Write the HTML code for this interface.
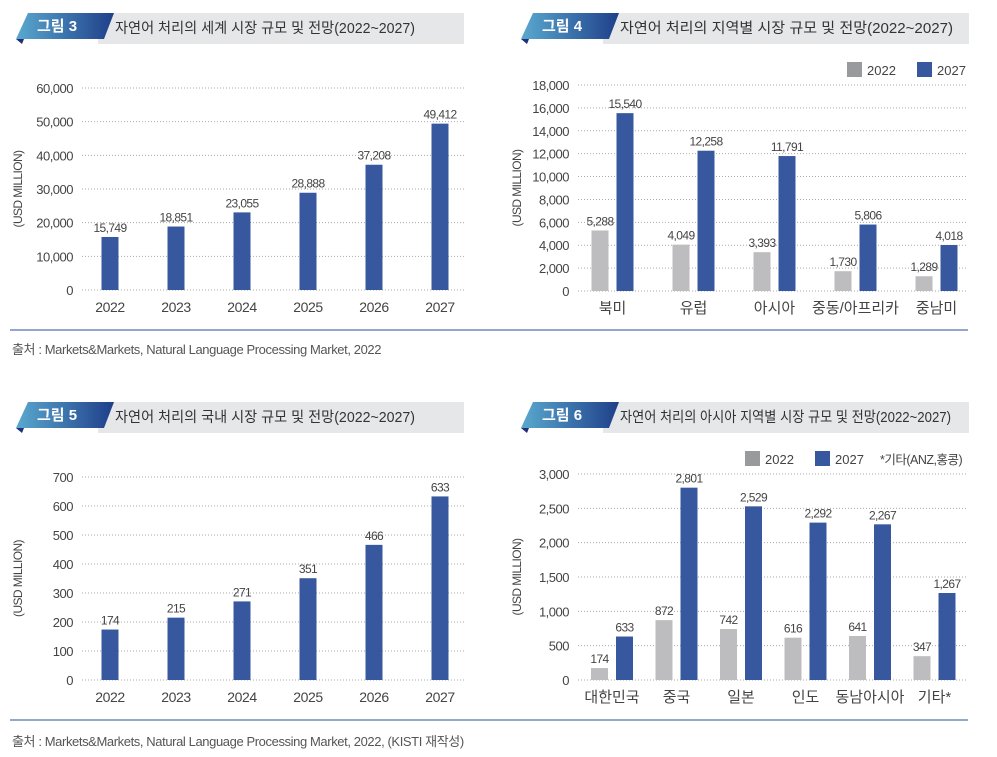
<!DOCTYPE html>
<html><head><meta charset="utf-8"><style>
body{margin:0;background:#fff;}
svg{display:block;font-family:"Liberation Sans","Noto Sans CJK KR",sans-serif;}
</style></head><body>
<svg id="s" width="997" height="757" viewBox="0 0 997 757"></svg>
<script>
// Chart 3 data
const c3Cats=["2022","2023","2024","2025","2026","2027"];
const c3Vals=[15749,18851,23055,28888,37208,49412];
const c3Ticks=[0,10000,20000,30000,40000,50000,60000];
// Chart 4 data
const c4Cats=["북미","유럽","아시아","중동/아프리카","중남미"];
const c4V2022=[5288,4049,3393,1730,1289];
const c4V2027=[15540,12258,11791,5806,4018];
const c4Ticks=[0,2000,4000,6000,8000,10000,12000,14000,16000,18000];
// Chart 5 data
const c5Cats=["2022","2023","2024","2025","2026","2027"];
const c5Vals=[174,215,271,351,466,633];
const c5Ticks=[0,100,200,300,400,500,600,700];
// Chart 6 data
const c6Cats=["대한민국","중국","일본","인도","동남아시아","기타*"];
const c6V2022=[174,872,742,616,641,347];
const c6V2027=[633,2801,2529,2292,2267,1267];
const c6Ticks=[0,500,1000,1500,2000,2500,3000];

const NS="http://www.w3.org/2000/svg";
const svg=document.getElementById("s");
const BLUE="#37589f",GRAY="#bdbdbf";
function el(tag,attrs,parent,text){const e=document.createElementNS(NS,tag);for(const k in attrs)e.setAttribute(k,attrs[k]);if(text!==undefined)e.textContent=text;(parent||svg).appendChild(e);return e;}
function fmt(v){return v.toLocaleString("en-US");}

function header(x,y,num,title,key,tl){
  const g=el("g",{});
  
  
  el("rect",{x:x+88,y:y+1,width:366,height:31,fill:"#e6e7e9"},g);
  el("polygon",{points:`${x+6},${y+27} ${x+12},${y+32} ${x+14},${y+27}`,fill:"#1f2f7a"},g);
  const grad=el("linearGradient",{id:"gr"+key,x1:"0",x2:"1",y1:"0",y2:"0"},g);
  el("stop",{offset:"0","stop-color":"#5aa9cf"},grad);
  el("stop",{offset:"1","stop-color":"#1f3f8a"},grad);
  el("polygon",{points:`${x+18},${y+1} ${x+104},${y+1} ${x+94},${y+27} ${x+6},${y+27}`,fill:`url(#gr${key})`},g);
  el("text",{x:x+27,y:y+19,"font-size":15,"font-weight":"bold",fill:"#fff"},g,"그림 "+num);
  const tt=el("text",{x:x+105,y:y+21,"font-size":14.5,fill:"#333",textLength:tl,lengthAdjust:"spacingAndGlyphs"},g,title);
  
  
}

function axis(o){
  const g=el("g",{});
  
  
  const max=o.ticks[o.ticks.length-1];
  o.ticks.forEach(t=>{
    const y=o.y0-(t/max)*(o.y0-o.yTop);
    el("line",{x1:o.gx0,x2:o.gx1,y1:y,y2:y,stroke:"#aaa","stroke-width":1,"stroke-dasharray":"1,2"},g);
    const lb=el("text",{x:o.lx,y:y+5,"font-size":13,fill:"#444","text-anchor":"end","letter-spacing":"-0.5"},g,fmt(t));
    
    
  });
  const yt=el("text",{x:0,y:0,"font-size":12,fill:"#444","text-anchor":"middle",transform:`translate(${o.tx},${(o.y0+o.yTop)/2}) rotate(-90)`,"letter-spacing":"-0.6"},g,"(USD MILLION)");
  
  
  return v=>o.y0-(v/max)*(o.y0-o.yTop);
}

function single(o){
  const ys=axis(o);
  o.cats.forEach((c,i)=>{
    const cx=o.x0+i*o.step;
    const y=ys(o.vals[i]);
    const b=el("rect",{x:cx-o.bw/2,y:y,width:o.bw,height:o.y0-y,fill:BLUE});
    
    
    const v=el("text",{x:cx,y:y-5,"font-size":12,fill:"#444","text-anchor":"middle","letter-spacing":"-0.6"},svg,fmt(o.vals[i]));
    
    
    const l=el("text",{x:cx,y:o.y0+22,"font-size":14,fill:"#444","text-anchor":"middle","letter-spacing":"-0.4"},svg,c);
    
    
  });
}

function grouped(o){
  const ys=axis(o);
  o.cats.forEach((c,i)=>{
    const cx=o.x0+i*o.step;
    [[o.a,GRAY,-1],[o.b,BLUE,1]].forEach(([arr,col,s])=>{
      const bx=s<0?cx-o.gap/2-o.bw:cx+o.gap/2;
      const y=ys(arr[i]);
      const b=el("rect",{x:bx,y:y,width:o.bw,height:o.y0-y,fill:col});
      
      
      const v=el("text",{x:bx+o.bw/2,y:y-5,"font-size":12,fill:"#444","text-anchor":"middle","letter-spacing":"-0.6"},svg,fmt(arr[i]));
      
      
    });
    const l=el("text",{x:cx,y:o.y0+22,"font-size":15,fill:"#444","text-anchor":"middle"},svg,c);
    
    
  });
  const lg=el("g",{});
  
  
  el("rect",{x:o.lgx,y:o.lgy-7,width:15,height:15,fill:"#999a9d"},lg);
  el("text",{x:o.lgx+20,y:o.lgy+6,"font-size":13,fill:"#444"},lg,"2022");
  el("rect",{x:o.lgx+70,y:o.lgy-7,width:15,height:15,fill:BLUE},lg);
  el("text",{x:o.lgx+90,y:o.lgy+6,"font-size":13,fill:"#444"},lg,"2027");
  if(o.note) el("text",{x:o.lgx+135,y:o.lgy+6,"font-size":12.5,fill:"#444","letter-spacing":"-0.5"},lg,o.note);
}

header(10,12,3,"자연어 처리의 세계 시장 규모 및 전망(2022~2027)","fig3",300);
header(515,12,4,"자연어 처리의 지역별 시장 규모 및 전망(2022~2027)","fig4",333);
header(10,401,5,"자연어 처리의 국내 시장 규모 및 전망(2022~2027)","fig5",300);
header(515,401,6,"자연어 처리의 아시아 지역별 시장 규모 및 전망(2022~2027)","fig6",331);

single({key:"fig3",cats:c3Cats,vals:c3Vals,ticks:c3Ticks,y0:290,yTop:88,gx0:82,gx1:464,lx:73,tx:22,x0:110,step:66,bw:17});
grouped({key:"fig4",cats:c4Cats,a:c4V2022,b:c4V2027,ticks:c4Ticks,y0:291,yTop:85,gx0:578,gx1:968,lx:569,tx:521,x0:612.5,step:81,bw:17,gap:8,lgx:847,lgy:69});
single({key:"fig5",cats:c5Cats,vals:c5Vals,ticks:c5Ticks,y0:680,yTop:477,gx0:82,gx1:464,lx:73,tx:22,x0:110,step:66,bw:17});
grouped({key:"fig6",cats:c6Cats,a:c6V2022,b:c6V2027,ticks:c6Ticks,y0:680,yTop:474,gx0:578,gx1:968,lx:569,tx:521,x0:612,step:64.5,bw:17,gap:8,lgx:745,lgy:458,note:"*기타(ANZ,홍콩)"});

const l1=el("line",{x1:10,x2:968,y1:330,y2:330,stroke:"#7088bb","stroke-width":1.5});


const s1=el("text",{x:12,y:354,"font-size":13,fill:"#555","letter-spacing":"-0.4"},svg,"출처 : Markets&Markets, Natural Language Processing Market, 2022");


const l2=el("line",{x1:10,x2:968,y1:720,y2:720,stroke:"#7088bb","stroke-width":1.5});


const s2=el("text",{x:12,y:746,"font-size":13,fill:"#555","letter-spacing":"-0.4"},svg,"출처 : Markets&Markets, Natural Language Processing Market, 2022, (KISTI 재작성)");


</script>
</body></html>
